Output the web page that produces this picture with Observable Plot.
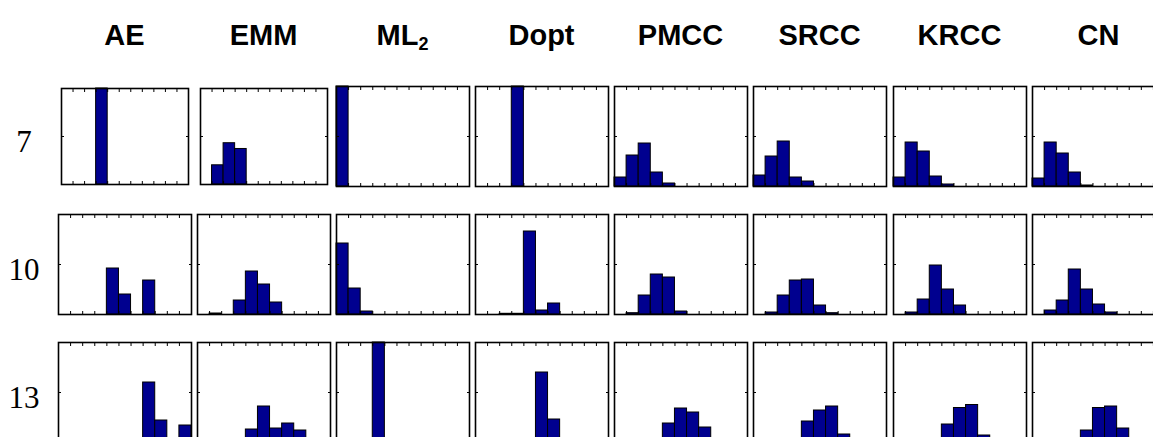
<!DOCTYPE html>
<html>
<head>
<meta charset="utf-8">
<script src="https://cdn.jsdelivr.net/npm/d3@7"></script>
<script src="https://cdn.jsdelivr.net/npm/@observablehq/plot@0.6"></script>
<style>
  html, body { margin: 0; padding: 0; overflow: hidden; background: #fff; }
  #chart { position: relative; width: 1153px; height: 437px; overflow: hidden; }
  .head { position: absolute; width: 140px; text-align: center; font: bold 29px "Liberation Sans", Arial, sans-serif; line-height: 29px; color: #000; white-space: nowrap; }
  .head sub { font-size: 18px; vertical-align: -5px; line-height: 0; }
  .rowlab { position: absolute; width: 50px; text-align: center; font: 31px "Liberation Serif", "Times New Roman", serif; line-height: 31px; color: #000; }
  .panel { position: absolute; }
</style>
</head>
<body>
<div id="chart"></div>
<script>
// ---- data: histogram proportions per method (11 bins) for rows 7, 10, 13 ----
const methods = ["AE", "EMM", "ML2", "Dopt", "PMCC", "SRCC", "KRCC", "CN"];
const methodLabels = ["AE", "EMM", "ML<sub>2</sub>", "Dopt", "PMCC", "SRCC", "KRCC", "CN"];
const rowLabels = ["7", "10", "13"];
const nBins = 11;

const AE = [
  [0, 0, 0, 1, 0, 0, 0, 0, 0, 0, 0],
  [0, 0, 0, 0, 0.46, 0.20, 0, 0.34, 0, 0, 0],
  [0, 0, 0, 0, 0, 0, 0, 0.60, 0.22, 0, 0.17]
];
const EMM = [
  [0, 0.20, 0.43, 0.37, 0, 0, 0, 0, 0, 0, 0],
  [0, 0.01, 0, 0.14, 0.43, 0.30, 0.12, 0, 0, 0, 0],
  [0, 0, 0, 0, 0.13, 0.36, 0.14, 0.19, 0.12, 0, 0]
];
const ML2 = [
  [1, 0, 0, 0, 0, 0, 0, 0, 0, 0, 0],
  [0.71, 0.26, 0.03, 0, 0, 0, 0, 0, 0, 0, 0],
  [0, 0, 0, 1, 0, 0, 0, 0, 0, 0, 0]
];
const Dopt = [
  [0, 0, 0, 1, 0, 0, 0, 0, 0, 0, 0],
  [0, 0, 0.007, 0.007, 0.83, 0.04, 0.11, 0, 0, 0, 0],
  [0, 0, 0, 0, 0, 0.70, 0.23, 0, 0, 0, 0]
];
const PMCC = [
  [0.09, 0.31, 0.43, 0.14, 0.03, 0, 0, 0, 0, 0, 0],
  [0, 0.013, 0.19, 0.40, 0.37, 0.03, 0, 0, 0, 0, 0],
  [0, 0, 0, 0, 0.19, 0.34, 0.30, 0.15, 0, 0, 0]
];
const SRCC = [
  [0.11, 0.30, 0.45, 0.09, 0.05, 0, 0, 0, 0, 0, 0],
  [0, 0.02, 0.19, 0.34, 0.35, 0.09, 0.013, 0, 0, 0, 0],
  [0, 0, 0, 0, 0.21, 0.32, 0.36, 0.08, 0, 0, 0]
];
const KRCC = [
  [0.09, 0.44, 0.35, 0.10, 0.02, 0, 0, 0, 0, 0, 0],
  [0, 0.02, 0.15, 0.49, 0.25, 0.09, 0, 0, 0, 0, 0],
  [0, 0, 0, 0, 0.18, 0.345, 0.375, 0.07, 0, 0, 0]
];
const CN = [
  [0.08, 0.44, 0.33, 0.14, 0.01, 0, 0, 0, 0, 0, 0],
  [0, 0.04, 0.14, 0.45, 0.25, 0.10, 0.02, 0, 0, 0, 0],
  [0, 0, 0, 0, 0.12, 0.345, 0.36, 0.14, 0, 0, 0]
];
const series = {AE, EMM, ML2, Dopt, PMCC, SRCC, KRCC, CN};

// ---- layout ----
const chart = document.getElementById("chart");
const colLeft = [58, 197, 336, 475, 614, 753, 893, 1032];
const rowTop = [86, 214, 342];
const PW = 133, PH = 100;
const barFill = "#00008F";

methods.forEach((m, c) => {
  const h = document.createElement("div");
  h.className = "head";
  h.innerHTML = methodLabels[c];
  h.style.left = (colLeft[c] + PW / 2 - 70) + "px";
  h.style.top = "21px";
  chart.appendChild(h);
});

rowLabels.forEach((r, i) => {
  const d = document.createElement("div");
  d.className = "rowlab";
  d.textContent = r;
  d.style.left = "-1px";
  d.style.top = (rowTop[i] + 40) + "px";
  chart.appendChild(d);
});

const edges = d3.range(0, nBins + 1);
const noText = {tickSize: -3, tickFormat: () => "", label: null, stroke: "#000"};

methods.forEach((m, c) => {
  rowLabels.forEach((r, i) => {
    // first row, first two columns are slightly smaller in the original
    let left = colLeft[c], top = rowTop[i], w = PW, hgt = PH;
    if (i === 0 && c < 2) { left += 3; top += 2; w -= 6; hgt -= 4; }
    const bars = series[m][i].map((v, b) => ({bin: b, value: v})).filter(d => d.value > 0);
    const svg = Plot.plot({
      width: w + 2,
      height: hgt + 2,
      margin: 1,
      x: {domain: [0, nBins], axis: null},
      y: {domain: [0, 1], axis: null},
      marks: [
        Plot.rectY(bars, {x1: "bin", x2: d => d.bin + 1, y: "value", fill: barFill, stroke: "#000", strokeWidth: 1}),
        Plot.axisX(edges, {anchor: "bottom", ...noText}),
        Plot.axisX(edges, {anchor: "top", ...noText}),
        Plot.axisY([0.5], {anchor: "left", ...noText}),
        Plot.axisY([0.5], {anchor: "right", ...noText}),
        Plot.frame({stroke: "#000", strokeWidth: 1.6})
      ]
    });
    svg.classList.add("panel");
    svg.style.left = (left - 1) + "px";
    svg.style.top = (top - 1) + "px";
    svg.style.overflow = "visible";
    chart.appendChild(svg);
  });
});
</script>
</body>
</html>
